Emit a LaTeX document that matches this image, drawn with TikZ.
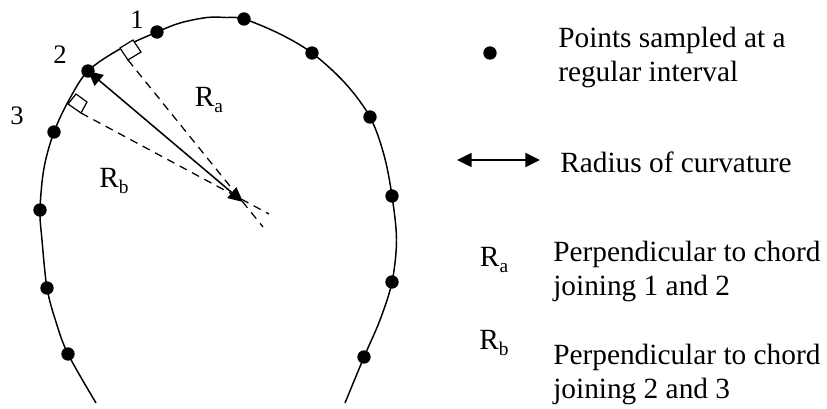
\documentclass[tikz,border=0pt]{standalone}
\usepackage{fontspec}
\setmainfont{Liberation Serif}
\usetikzlibrary{arrows.meta}
\tikzset{
  px/.style={x=0.75pt,y=-0.75pt},
  dot/.style={circle,fill=black,inner sep=0pt,minimum size=10pt},
  curve/.style={line width=1.1pt},
  dash line/.style={line width=0.95pt,dash pattern=on 6pt off 4.5pt},
  rad/.style={line width=1.15pt,{Triangle[length=11pt,width=10.5pt]}-{Triangle[length=11pt,width=10.5pt]}},
  tick box/.style={line width=0.9pt},
  lab/.style={inner sep=0pt,font=\fontsize{20pt}{25.5pt}\selectfont},
  sym/.style={inner sep=0pt,font=\fontsize{22pt}{25.5pt}\selectfont},
  legend/.style={inner sep=0pt,anchor=west,align=left,font=\fontsize{22pt}{25.5pt}\selectfont},
}
\newcommand{\sbs}[1]{\raisebox{-0.2em}{\fontsize{14.5pt}{14.5pt}\selectfont #1}}
\begin{document}
\begin{tikzpicture}[px]
\useasboundingbox (0,0) rectangle (827,409);
\coordinate (bl) at (96,403);
\coordinate (br) at (345,403);
\draw[curve] plot[smooth,tension=0.55] coordinates {(bl) (68,354) (56,322) (47,288) (42,240) (40,210) (44,168) (54,132) (69,100) (88,71) (120,49) (157,32) (180,23) (207,17.5) (226,17.5) (244,19) (280,34) (312,53) (345,83) (370,117) (384,155) (392,196) (396.5,240) (392,282) (380,320) (364,357) (br)};
\node[dot] (p1) at (157,32) {};
\node[dot] (p2) at (88,71) {};
\node[dot] (p3) at (54,132) {};
\node[dot] (p4) at (40,210) {};
\node[dot] (p5) at (47,288) {};
\node[dot] (p6) at (68,354) {};
\node[dot] (q1) at (244,19) {};
\node[dot] (q2) at (312,53) {};
\node[dot] (q3) at (370,117) {};
\node[dot] (q4) at (392,196) {};
\node[dot] (q5) at (392,282) {};
\node[dot] (q6) at (364,357) {};
\coordinate (c) at (243,202);
\coordinate (a0) at (128,60);
\coordinate (a1) at (263,227);
\coordinate (b0) at (81,113);
\coordinate (b1) at (269,214);
\draw[dash line] (a0) -- (a1);
\draw[dash line] (b0) -- (b1);
\draw[rad] (p2.center) -- (c);
\draw[tick box,fill=white] (120,48) -- (133,40) -- (141,52) -- (128,60) -- cycle;
\draw[tick box,fill=white] (68,104) -- (76,94) -- (87,102) -- (81,113) -- cycle;
\node[lab] (n1) at (137,20) {1};
\node[lab] (n2) at (60,55) {2};
\node[lab] (n3) at (17,116) {3};
\node[sym] (ra) at (209,100) {R\sbs{a}};
\node[sym] (rb) at (114,181) {R\sbs{b}};
\node[dot] (ld) at (490,53) {};
\node[legend] (t1) at (558,57) {Points sampled at a\\regular interval};
\coordinate (la) at (457,160);
\coordinate (lb) at (540,160);
\draw[rad] (la) -- (lb);
\node[legend] (t2) at (560,162) {Radius of curvature};
\node[sym] (lra) at (494,260) {R\sbs{a}};
\node[sym] (lrb) at (494,343) {R\sbs{b}};
\node[legend] (t3) at (553,271) {Perpendicular to chord\\joining 1 and 2};
\node[legend] (t4) at (553,374) {Perpendicular to chord\\joining 2 and 3};
\end{tikzpicture}
\end{document}
